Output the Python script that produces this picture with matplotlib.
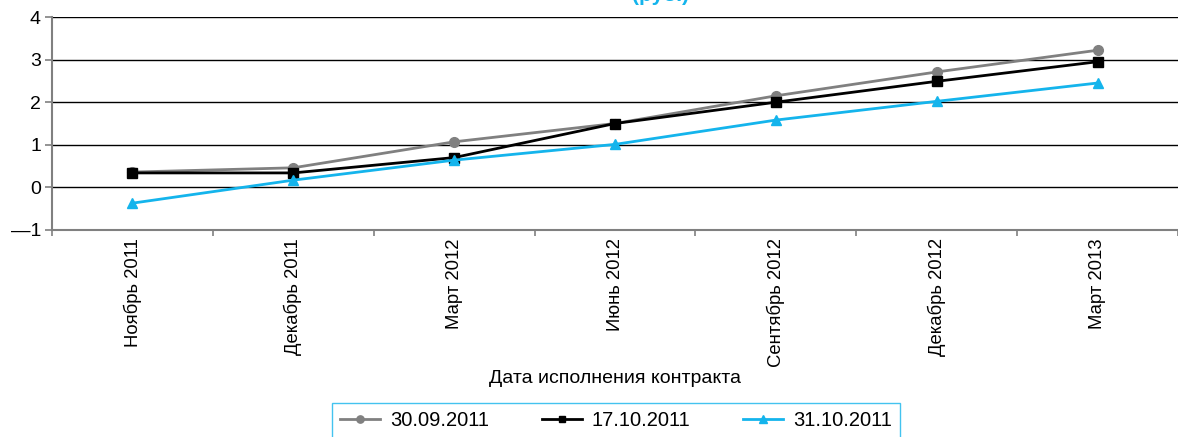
import matplotlib
matplotlib.use('Agg')
import matplotlib.pyplot as plt
import numpy as np

plt.rcParams['font.family'] = ['Liberation Sans', 'DejaVu Sans']

categories = ['Ноябрь 2011', 'Декабрь 2011', 'Март 2012', 'Июнь 2012',
              'Сентябрь 2012', 'Декабрь 2012', 'Март 2013']
s_3009 = [0.36, 0.46, 1.07, 1.50, 2.15, 2.71, 3.22]
s_1710 = [0.34, 0.34, 0.70, 1.50, 2.00, 2.49, 2.95]
s_3110 = [-0.37, 0.17, 0.64, 1.01, 1.58, 2.02, 2.45]
series_names = ['30.09.2011', '17.10.2011', '31.10.2011']
yticks = [-1, 0, 1, 2, 3, 4]
ytick_labels = ['\u20141', '0', '1', '2', '3', '4']

blue = '#14b4ec'
gray = '#808080'

fig = plt.figure(figsize=(11.78, 4.37), dpi=100)
ax = fig.add_axes([52 / 1178, 1 - 230 / 437, 1 - 52 / 1178, (230 - 17) / 437])

x = np.arange(len(categories))
ax.plot(x, s_3009, color=gray, lw=2, marker='o', ms=7, label=series_names[0], zorder=3)
ax.plot(x, s_1710, color='black', lw=2, marker='s', ms=6.5, label=series_names[1], zorder=4)
ax.plot(x, s_3110, color=blue, lw=2, marker='^', ms=7.5, label=series_names[2], zorder=5)

ax.set_xlim(-0.5, len(categories) - 0.5)
ax.set_ylim(-1, 4)
ax.set_yticks(yticks)
ax.set_yticklabels(ytick_labels, fontsize=14)
ax.yaxis.grid(True, color='black', lw=1)
ax.set_axisbelow(True)

ax.set_xticks(x)
ax.set_xticklabels(categories, rotation=90, fontsize=13.3)
ax.set_xticks(np.arange(len(categories) + 1) - 0.5, minor=True)
ax.tick_params(axis='x', which='major', length=0, pad=6)
ax.tick_params(axis='x', which='minor', length=4, color=gray, width=1.2)
ax.tick_params(axis='y', length=5, color=gray, width=1.2, pad=3)

for side in ['top', 'right']:
    ax.spines[side].set_visible(False)
for side in ['left', 'bottom']:
    ax.spines[side].set_color(gray)
    ax.spines[side].set_linewidth(1.5)

ax.set_xlabel('Дата исполнения контракта', fontsize=14, labelpad=2)

leg = fig.legend(loc='upper center', bbox_to_anchor=(0.523, 1 - 403 / 437),
                 ncol=3, fontsize=14.5, frameon=True, fancybox=False,
                 edgecolor=blue, handlelength=2.0, columnspacing=2.6,
                 markerscale=0.75, borderpad=0.4, handletextpad=0.5,
                 borderaxespad=0)
leg.get_frame().set_linewidth(1)

fig.text(0.561, 1 - 1 / 437, '(руб.)', color=blue, fontsize=15,
         fontweight='bold', ha='center', va='baseline')

fig.savefig('out.png', dpi=100)
